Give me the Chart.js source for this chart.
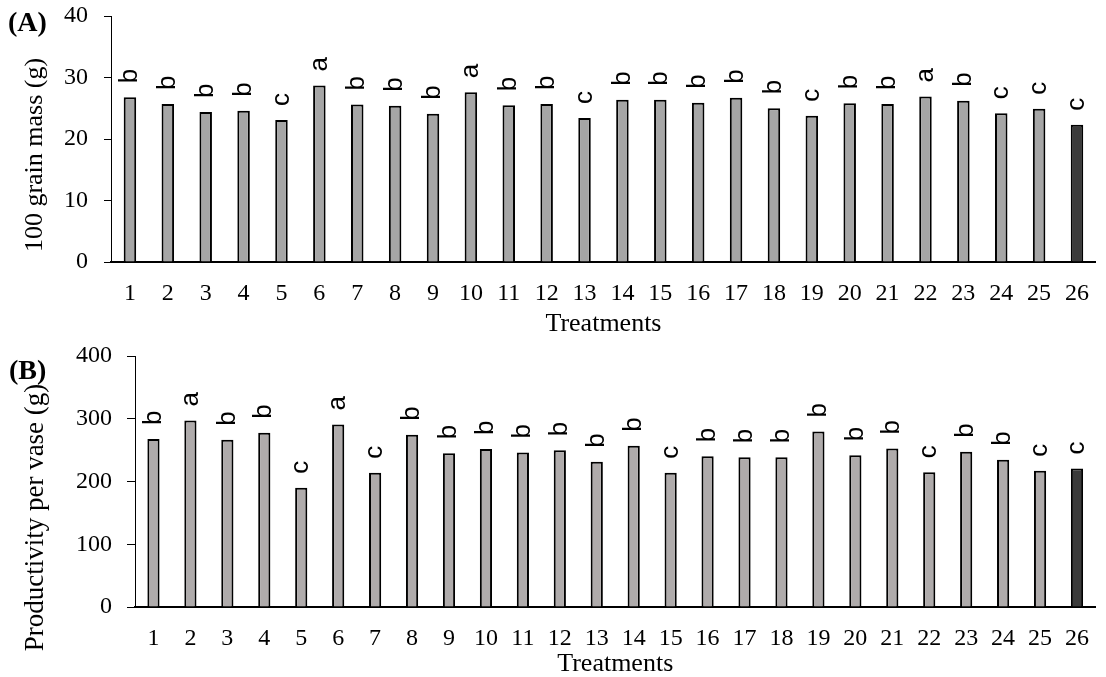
<!DOCTYPE html>
<html>
<head>
<meta charset="utf-8">
<script src="https://cdn.jsdelivr.net/npm/chart.js@4.4.1/dist/chart.umd.min.js"></script>
<style>
    html, body { margin: 0; padding: 0; background: #fff; }
    #wrap { position: relative; width: 1106px; height: 677px; overflow: hidden; }
    canvas { position: absolute; left: 0; }
    #chart-a { top: 0; }
    #chart-b { top: 330px; }
</style>
</head>
<body>
<div id="wrap">
    <canvas id="chart-a" width="1106" height="345" style="width:1106px;height:345px"></canvas>
    <canvas id="chart-b" width="1106" height="347" style="width:1106px;height:347px"></canvas>
</div>
<script>
const treatments = ['1', '2', '3', '4', '5', '6', '7', '8', '9', '10', '11', '12', '13',
    '14', '15', '16', '17', '18', '19', '20', '21', '22', '23', '24', '25', '26'];

// (A) 100 grain mass (g)
const grainMass = [26.8, 25.7, 24.4, 24.6, 23.1, 28.7, 25.6, 25.4, 24.1, 27.6, 25.5, 25.7, 23.4,
    26.4, 26.4, 25.9, 26.7, 25.0, 23.8, 25.8, 25.7, 26.9, 26.2, 24.2, 24.9, 22.3];
const grainLetters = ['b', 'b', 'b', 'b', 'c', 'a', 'b', 'b', 'b', 'a', 'b', 'b', 'c',
    'b', 'b', 'b', 'b', 'b', 'c', 'b', 'b', 'a', 'b', 'c', 'c', 'c'];
const grainTicks = { max: 40, step: 10 };

// (B) productivity per vase (g)
const productivity = [267.6, 297.3, 266.5, 277.7, 189.9, 291.0, 213.8, 274.5, 245.2, 251.6, 246.3, 250.0, 231.4,
    256.9, 213.8, 240.4, 238.8, 238.8, 279.8, 242.0, 252.7, 214.9, 247.3, 234.6, 217.0, 220.7];
const productivityLetters = ['b', 'a', 'b', 'b', 'c', 'a', 'c', 'b', 'b', 'b', 'b', 'b', 'b',
    'b', 'c', 'b', 'b', 'b', 'b', 'b', 'b', 'c', 'b', 'b', 'c', 'c'];
const productivityTicks = { max: 400, step: 100 };

const SERIF = '"Liberation Serif", "Times New Roman", Times, serif';
Chart.defaults.font.family = SERIF;
Chart.defaults.font.size = 24;
Chart.defaults.color = '#000';

// significance letters, rotated, above each bar
const letterPlugin = {
    id: 'letters',
    afterDatasetsDraw(chart, args, opts) {
        const ctx = chart.ctx;
        const bars = chart.getDatasetMeta(0).data;
        ctx.save();
        ctx.font = '26px "Liberation Sans", Arial, sans-serif';
        ctx.fillStyle = '#000';
        ctx.textAlign = 'left';
        ctx.textBaseline = 'middle';
        bars.forEach((bar, i) => {
            ctx.save();
            ctx.translate(bar.x, bar.y - opts.gap);
            ctx.rotate(-Math.PI / 2);
            ctx.fillText(opts.letters[i], 0, 0);
            ctx.restore();
        });
        ctx.restore();
    }
};

// y axis title (off-centre, like the original) and panel tag
const sideTextPlugin = {
    id: 'sideText',
    afterDraw(chart, args, opts) {
        const { ctx, chartArea } = chart;
        ctx.save();
        ctx.fillStyle = '#000';
        ctx.font = opts.titleSize + 'px ' + SERIF;
        ctx.textAlign = 'center';
        ctx.textBaseline = 'middle';
        ctx.translate(opts.titleX, (chartArea.top + chartArea.bottom) / 2 + opts.shift);
        ctx.rotate(-Math.PI / 2);
        ctx.fillText(opts.title, 0, 0);
        ctx.restore();

        ctx.save();
        ctx.fillStyle = '#000';
        ctx.font = 'bold 28px ' + SERIF;
        ctx.textAlign = 'left';
        ctx.textBaseline = 'alphabetic';
        ctx.fillText(opts.tag, opts.tagX, opts.tagY);
        ctx.restore();
    }
};

function barChart(id, values, letters, ticks, cfg) {
    const colors = values.map((v, i) => i === values.length - 1 ? '#3b3b3b' : cfg.fill);
    return new Chart(document.getElementById(id), {
        type: 'bar',
        data: {
            labels: treatments,
            datasets: [{
                data: values,
                backgroundColor: colors,
                borderColor: '#000',
                borderWidth: 2,
                borderSkipped: 'start',
                categoryPercentage: 1,
                barPercentage: 0.33
            }]
        },
        plugins: [letterPlugin, sideTextPlugin],
        options: {
            responsive: false,
            animation: false,
            layout: { padding: { top: cfg.top, right: 0, left: 0, bottom: 0 } },
            plugins: {
                legend: { display: false },
                tooltip: { enabled: false },
                letters: { letters: letters, gap: 14 },
                sideText: cfg.side
            },
            scales: {
                x: {
                    afterFit: s => { s.height = cfg.xHeight; },
                    grid: { display: false, drawTicks: false },
                    border: { display: true, color: '#000', width: 2 },
                    ticks: { autoSkip: false, maxRotation: 0, padding: 17, font: { size: 24 } },
                    title: {
                        display: true,
                        text: 'Treatments',
                        font: { size: 26, lineHeight: 1 },
                        padding: { top: 0, bottom: cfg.titlePad }
                    }
                },
                y: {
                    min: 0,
                    max: ticks.max,
                    afterFit: s => {
                        s.width = cfg.yWidth;
                        // keep the tick padding from pushing the plot area down
                        s.paddingTop = 0;
                        s.paddingBottom = 0;
                    },
                    grid: { display: true, drawOnChartArea: false, drawTicks: true, tickLength: cfg.tickLen, color: '#000', lineWidth: 1 },
                    border: { display: true, color: '#000', width: 1 },
                    ticks: { stepSize: ticks.step, padding: cfg.tickPad, font: { size: 24 } }
                }
            }
        }
    });
}

barChart('chart-a', grainMass, grainLetters, grainTicks, {
    fill: '#a6a6a6',
    top: 16,
    xHeight: 83,
    yWidth: 111,
    tickLen: 7,
    tickPad: 16,
    titlePad: 8,
    side: { title: '100 grain mass (g)', titleSize: 26, titleX: 35, shift: 16, tag: '(A)', tagX: 8, tagY: 31 }
});

barChart('chart-b', productivity, productivityLetters, productivityTicks, {
    fill: '#afabab',
    top: 26,
    xHeight: 70,
    yWidth: 135,
    tickLen: 8,
    tickPad: 15,
    titlePad: 0,
    side: { title: 'Productivity per vase (g)', titleSize: 27, titleX: 36, shift: 36, tag: '(B)', tagX: 9, tagY: 49 }
});
</script>
</body>
</html>
